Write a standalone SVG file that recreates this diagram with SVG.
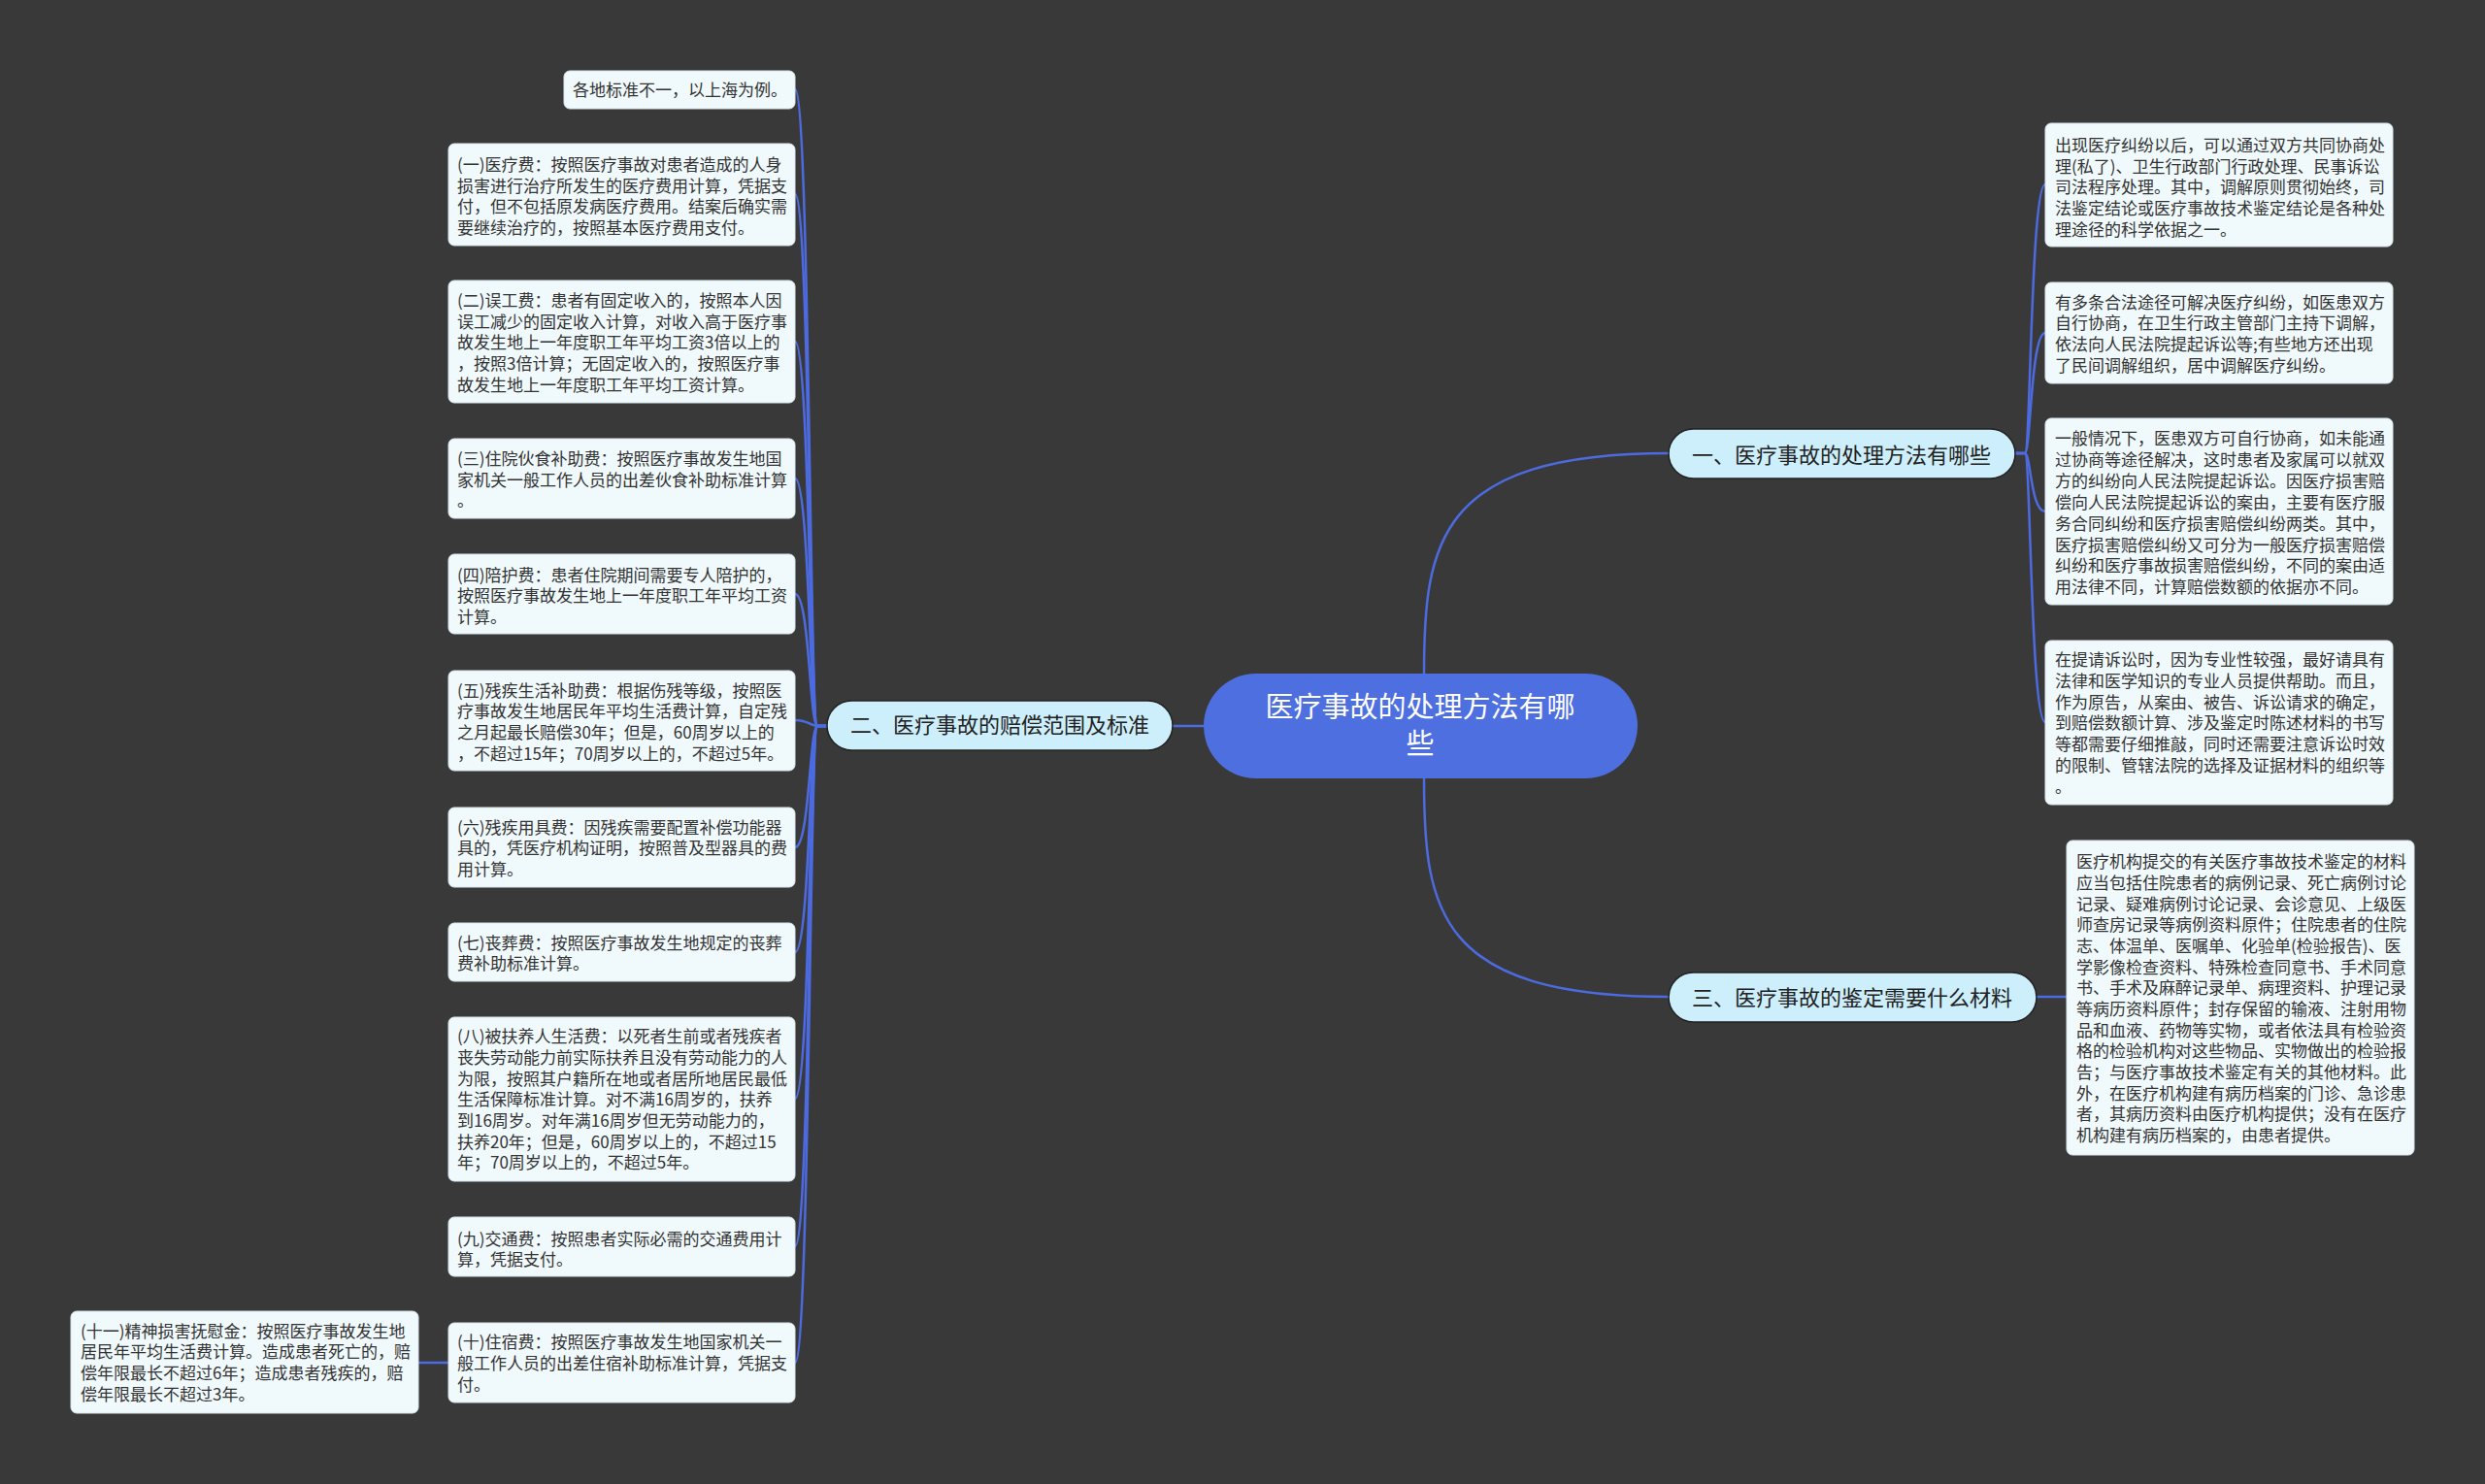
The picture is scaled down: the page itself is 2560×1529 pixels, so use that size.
<svg xmlns="http://www.w3.org/2000/svg" width="2560" height="1529" viewBox="0 0 2560 1529">
<style>
.bg{fill:#3a393a}
.leaf rect{fill:#f0f9fc;stroke:#d8e6ea;stroke-width:1}
.leaf text{font-family:"Noto Sans CJK SC","Noto Sans",sans-serif;font-size:17px;fill:#333}
.branch rect{fill:#cdeffb;stroke:#222;stroke-width:1.5}
.branch text{font-family:"Noto Sans CJK SC","Noto Sans",sans-serif;font-size:22px;fill:#222;text-anchor:middle}
.root rect{fill:#4e6fe0}
.root text{font-family:"Noto Sans CJK SC","Noto Sans",sans-serif;font-size:29px;fill:#fff;text-anchor:middle}
.edges path{fill:none;stroke:#4d6be0;stroke-width:2.5}
</style>
<rect class="bg" x="0" y="0" width="2560" height="1529"/>

<g class="edges" id="connectors">
<path d="M1467 695 C1467 560 1480 467 1719 467"/>
<path d="M1467 802 C1467 937 1480 1027 1719 1027"/>
<path d="M1240 748 L1208 748"/>
<path d="M2076 467 L2086 467 C2092 467 2092 190 2107 190"/>
<path d="M2076 467 L2086 467 C2092 467 2092 343 2107 343"/>
<path d="M2076 467 L2086 467 C2092 467 2092 527 2107 527"/>
<path d="M2076 467 L2086 467 C2092 467 2092 744 2107 744"/>
<path d="M2098 1027 L2129 1027"/>
<path d="M852 748 L842 748 C834 748 834 92 819 92"/>
<path d="M852 748 L842 748 C834 748 834 200 819 200"/>
<path d="M852 748 L842 748 C834 748 834 352 819 352"/>
<path d="M852 748 L842 748 C834 748 834 493 819 493"/>
<path d="M852 748 L842 748 C834 748 834 612 819 612"/>
<path d="M852 748 L842 748 C834 748 834 742 819 742"/>
<path d="M852 748 L842 748 C834 748 834 873 819 873"/>
<path d="M852 748 L842 748 C834 748 834 981 819 981"/>
<path d="M852 748 L842 748 C834 748 834 1132 819 1132"/>
<path d="M852 748 L842 748 C834 748 834 1284 819 1284"/>
<path d="M852 748 L842 748 C834 748 834 1404 819 1404"/>
<path d="M462 1404 L431 1404"/>
</g>

<g id="root" class="root">
<rect x="1240" y="694" width="447" height="108" rx="54"/>
<text x="1463" y="739">医疗事故的处理方法有哪</text>
<text x="1463" y="777">些</text>
</g>

<g id="b1" class="branch">
<rect x="1719" y="442" width="357" height="51" rx="25.5"/>
<text x="1897" y="477">一、医疗事故的处理方法有哪些</text>
</g>
<g id="b2" class="branch">
<rect x="852" y="722" width="356" height="51" rx="25.5"/>
<text x="1030" y="755">二、医疗事故的赔偿范围及标准</text>
</g>
<g id="b3" class="branch">
<rect x="1719" y="1002" width="379" height="51" rx="25.5"/>
<text x="1908" y="1036">三、医疗事故的鉴定需要什么材料</text>
</g>

<g id="r1" class="leaf">
<rect x="2107" y="127" width="358" height="127" rx="6"/>
<text x="2117" y="156">出现医疗纠纷以后，可以通过双方共同协商处</text>
<text x="2117" y="178">理(私了)、卫生行政部门行政处理、民事诉讼</text>
<text x="2117" y="199">司法程序处理。其中，调解原则贯彻始终，司</text>
<text x="2117" y="221">法鉴定结论或医疗事故技术鉴定结论是各种处</text>
<text x="2117" y="243">理途径的科学依据之一。</text>
</g>
<g id="r2" class="leaf">
<rect x="2107" y="291" width="358" height="104" rx="6"/>
<text x="2117" y="318">有多条合法途径可解决医疗纠纷，如医患双方</text>
<text x="2117" y="339">自行协商，在卫生行政主管部门主持下调解，</text>
<text x="2117" y="361">依法向人民法院提起诉讼等;有些地方还出现</text>
<text x="2117" y="383">了民间调解组织，居中调解医疗纠纷。</text>
</g>
<g id="r3" class="leaf">
<rect x="2107" y="431" width="358" height="192" rx="6"/>
<text x="2117" y="458">一般情况下，医患双方可自行协商，如未能通</text>
<text x="2117" y="480">过协商等途径解决，这时患者及家属可以就双</text>
<text x="2117" y="502">方的纠纷向人民法院提起诉讼。因医疗损害赔</text>
<text x="2117" y="524">偿向人民法院提起诉讼的案由，主要有医疗服</text>
<text x="2117" y="546">务合同纠纷和医疗损害赔偿纠纷两类。其中，</text>
<text x="2117" y="568">医疗损害赔偿纠纷又可分为一般医疗损害赔偿</text>
<text x="2117" y="589">纠纷和医疗事故损害赔偿纠纷，不同的案由适</text>
<text x="2117" y="611">用法律不同，计算赔偿数额的依据亦不同。</text>
</g>
<g id="r4" class="leaf">
<rect x="2107" y="660" width="358" height="169" rx="6"/>
<text x="2117" y="686">在提请诉讼时，因为专业性较强，最好请具有</text>
<text x="2117" y="708">法律和医学知识的专业人员提供帮助。而且，</text>
<text x="2117" y="730">作为原告，从案由、被告、诉讼请求的确定，</text>
<text x="2117" y="751">到赔偿数额计算、涉及鉴定时陈述材料的书写</text>
<text x="2117" y="773">等都需要仔细推敲，同时还需要注意诉讼时效</text>
<text x="2117" y="795">的限制、管辖法院的选择及证据材料的组织等</text>
<text x="2117" y="817">。</text>
</g>
<g id="r5" class="leaf">
<rect x="2129" y="866" width="358" height="324" rx="6"/>
<text x="2139" y="894">医疗机构提交的有关医疗事故技术鉴定的材料</text>
<text x="2139" y="916">应当包括住院患者的病例记录、死亡病例讨论</text>
<text x="2139" y="938">记录、疑难病例讨论记录、会诊意见、上级医</text>
<text x="2139" y="959">师查房记录等病例资料原件；住院患者的住院</text>
<text x="2139" y="981">志、体温单、医嘱单、化验单(检验报告)、医</text>
<text x="2139" y="1003">学影像检查资料、特殊检查同意书、手术同意</text>
<text x="2139" y="1024">书、手术及麻醉记录单、病理资料、护理记录</text>
<text x="2139" y="1046">等病历资料原件；封存保留的输液、注射用物</text>
<text x="2139" y="1068">品和血液、药物等实物，或者依法具有检验资</text>
<text x="2139" y="1089">格的检验机构对这些物品、实物做出的检验报</text>
<text x="2139" y="1111">告；与医疗事故技术鉴定有关的其他材料。此</text>
<text x="2139" y="1133">外，在医疗机构建有病历档案的门诊、急诊患</text>
<text x="2139" y="1154">者，其病历资料由医疗机构提供；没有在医疗</text>
<text x="2139" y="1176">机构建有病历档案的，由患者提供。</text>
</g>

<g id="l0" class="leaf">
<rect x="581" y="73" width="238" height="39" rx="6"/>
<text x="590" y="99">各地标准不一，以上海为例。</text>
</g>
<g id="l1" class="leaf">
<rect x="462" y="148" width="357" height="105" rx="6"/>
<text x="471" y="176">(一)医疗费：按照医疗事故对患者造成的人身</text>
<text x="471" y="198">损害进行治疗所发生的医疗费用计算，凭据支</text>
<text x="471" y="219">付，但不包括原发病医疗费用。结案后确实需</text>
<text x="471" y="241">要继续治疗的，按照基本医疗费用支付。</text>
</g>
<g id="l2" class="leaf">
<rect x="462" y="289" width="357" height="126" rx="6"/>
<text x="471" y="316">(二)误工费：患者有固定收入的，按照本人因</text>
<text x="471" y="338">误工减少的固定收入计算，对收入高于医疗事</text>
<text x="471" y="359">故发生地上一年度职工年平均工资3倍以上的</text>
<text x="471" y="381">，按照3倍计算；无固定收入的，按照医疗事</text>
<text x="471" y="403">故发生地上一年度职工年平均工资计算。</text>
</g>
<g id="l3" class="leaf">
<rect x="462" y="452" width="357" height="82" rx="6"/>
<text x="471" y="479">(三)住院伙食补助费：按照医疗事故发生地国</text>
<text x="471" y="501">家机关一般工作人员的出差伙食补助标准计算</text>
<text x="471" y="522">。</text>
</g>
<g id="l4" class="leaf">
<rect x="462" y="571" width="357" height="82" rx="6"/>
<text x="471" y="599">(四)陪护费：患者住院期间需要专人陪护的，</text>
<text x="471" y="620">按照医疗事故发生地上一年度职工年平均工资</text>
<text x="471" y="642">计算。</text>
</g>
<g id="l5" class="leaf">
<rect x="462" y="691" width="357" height="103" rx="6"/>
<text x="471" y="718">(五)残疾生活补助费：根据伤残等级，按照医</text>
<text x="471" y="739">疗事故发生地居民年平均生活费计算，自定残</text>
<text x="471" y="761">之月起最长赔偿30年；但是，60周岁以上的</text>
<text x="471" y="783">，不超过15年；70周岁以上的，不超过5年。</text>
</g>
<g id="l6" class="leaf">
<rect x="462" y="832" width="357" height="82" rx="6"/>
<text x="471" y="859">(六)残疾用具费：因残疾需要配置补偿功能器</text>
<text x="471" y="880">具的，凭医疗机构证明，按照普及型器具的费</text>
<text x="471" y="902">用计算。</text>
</g>
<g id="l7" class="leaf">
<rect x="462" y="951" width="357" height="60" rx="6"/>
<text x="471" y="978">(七)丧葬费：按照医疗事故发生地规定的丧葬</text>
<text x="471" y="999">费补助标准计算。</text>
</g>
<g id="l8" class="leaf">
<rect x="462" y="1048" width="357" height="169" rx="6"/>
<text x="471" y="1074">(八)被扶养人生活费：以死者生前或者残疾者</text>
<text x="471" y="1096">丧失劳动能力前实际扶养且没有劳动能力的人</text>
<text x="471" y="1118">为限，按照其户籍所在地或者居所地居民最低</text>
<text x="471" y="1139">生活保障标准计算。对不满16周岁的，扶养</text>
<text x="471" y="1161">到16周岁。对年满16周岁但无劳动能力的，</text>
<text x="471" y="1183">扶养20年；但是，60周岁以上的，不超过15</text>
<text x="471" y="1204">年；70周岁以上的，不超过5年。</text>
</g>
<g id="l9" class="leaf">
<rect x="462" y="1254" width="357" height="61" rx="6"/>
<text x="471" y="1283">(九)交通费：按照患者实际必需的交通费用计</text>
<text x="471" y="1304">算，凭据支付。</text>
</g>
<g id="l10" class="leaf">
<rect x="462" y="1363" width="357" height="82" rx="6"/>
<text x="471" y="1389">(十)住宿费：按照医疗事故发生地国家机关一</text>
<text x="471" y="1411">般工作人员的出差住宿补助标准计算，凭据支</text>
<text x="471" y="1433">付。</text>
</g>
<g id="l11" class="leaf">
<rect x="73" y="1351" width="358" height="105" rx="6"/>
<text x="83" y="1378">(十一)精神损害抚慰金：按照医疗事故发生地</text>
<text x="83" y="1399">居民年平均生活费计算。造成患者死亡的，赔</text>
<text x="83" y="1421">偿年限最长不超过6年；造成患者残疾的，赔</text>
<text x="83" y="1443">偿年限最长不超过3年。</text>
</g>
</svg>
